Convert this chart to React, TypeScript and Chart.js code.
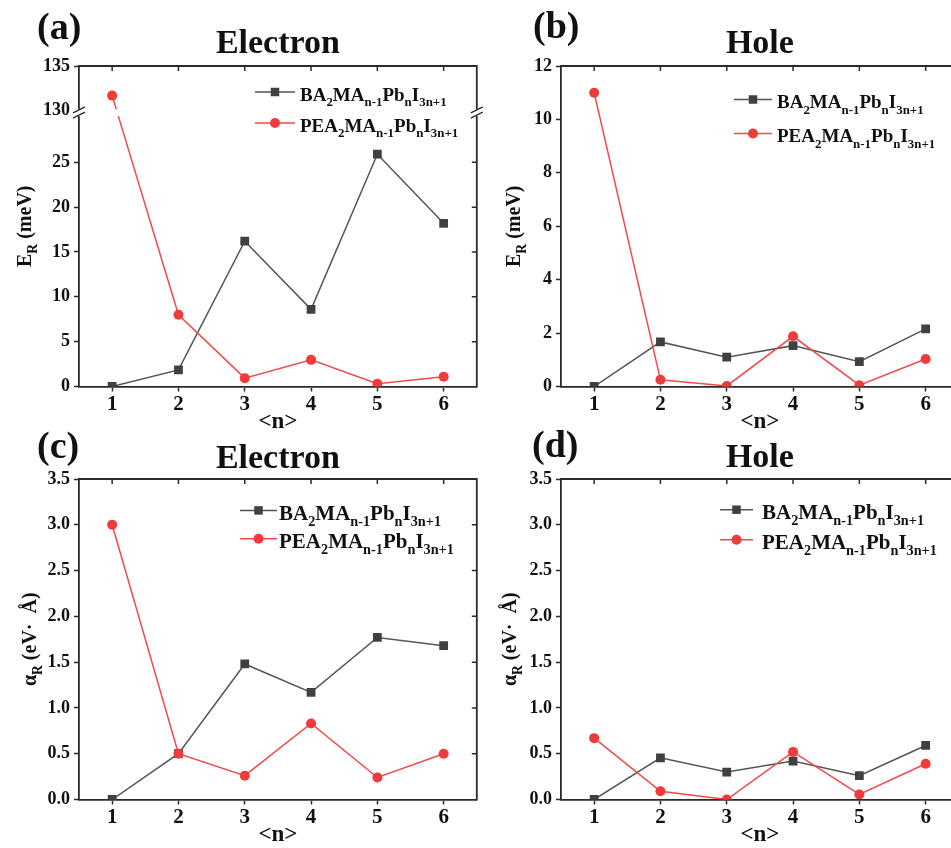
import React, { useEffect, useRef } from "react";
import { Chart, registerables } from "chart.js";

Chart.register(...registerables);

// ---------------- data ----------------
const nValues = [1, 2, 3, 4, 5, 6];
const xTickLabels = ["1", "2", "3", "4", "5", "6"];

const baElectronER = [0, 1.85, 16.2, 8.6, 25.9, 18.2];
const peaElectronER = [131.7, 8.0, 0.93, 2.97, 0.3, 1.1];

const baHoleER = [0, 1.67, 1.1, 1.53, 0.93, 2.16];
const peaHoleER = [11.0, 0.25, 0.02, 1.88, 0.05, 1.03];

const baElectronAlpha = [0, 0.5, 1.48, 1.17, 1.77, 1.68];
const peaElectronAlpha = [3.0, 0.5, 0.26, 0.83, 0.24, 0.5];

const baHoleAlpha = [0, 0.455, 0.3, 0.42, 0.26, 0.59];
const peaHoleAlpha = [0.67, 0.09, 0.0, 0.52, 0.055, 0.39];

const erElectronTicks = [0, 5, 10, 15, 20, 25, 130, 135];
const erHoleTicks = [0, 2, 4, 6, 8, 10, 12];
const alphaTicks = [0, 0.5, 1.0, 1.5, 2.0, 2.5, 3.0, 3.5];

type Seg = { t: string; sub?: boolean };
const baName: Seg[] = [
  { t: "BA" }, { t: "2", sub: true }, { t: "MA" }, { t: "n-1", sub: true },
  { t: "Pb" }, { t: "n", sub: true }, { t: "I" }, { t: "3n+1", sub: true },
];
const peaName: Seg[] = [
  { t: "PEA" }, { t: "2", sub: true }, { t: "MA" }, { t: "n-1", sub: true },
  { t: "Pb" }, { t: "n", sub: true }, { t: "I" }, { t: "3n+1", sub: true },
];
const erTitle: Seg[] = [{ t: "E" }, { t: "R", sub: true }, { t: " (meV)" }];
const alphaTitle: Seg[] = [{ t: "α" }, { t: "R", sub: true }, { t: " (eV·  Å)" }];
const xTitle = "<n>";

// ---------------- styling ----------------
const FONT = '"Liberation Serif", "Times New Roman", serif';
const RED = "#ef3b3b";
const RED_LINE = "#f04a4a";
const GRAY = "#404040";
const GRAY_LINE = "#555555";
const AX = "#2a2a2a";
const TXT = "#111111";
const CW = 483;
const CH = 432;
const PAD_TOP = 66;
const Y_AXIS_W = 79;
const X_AXIS_H = 45.5;

// axis break for panel (a)
const BREAK_LOW = 30;
const BREAK_HIGH = 130;
const UPPER_START = 30.74;
const breakTf = (v: number) => (v <= BREAK_LOW ? v : UPPER_START + (v - BREAK_HIGH));
const idTf = (v: number) => v;

type LegendCfg = { lineX: number; lineLen: number; textX: number; y1: number; y2: number; size: number };
type PanelCfg = {
  key: string; left: number; top: number; label: string; labelX: number; labelBase: number;
  title: string; titleBase: number; yTitle: Seg[]; yTitleX: number; yTitleSize: number;
  ba: number[]; pea: number[]; yTicks: number[]; yMax: number; decimals: number;
  broken: boolean; legend: LegendCfg;
};

const panels: PanelCfg[] = [
  {
    key: "a", left: 0, top: 0, label: "(a)", labelX: 37, labelBase: 39, title: "Electron", titleBase: 53,
    yTitle: erTitle, yTitleX: 24, yTitleSize: 20, ba: baElectronER, pea: peaElectronER,
    yTicks: erElectronTicks, yMax: 135, decimals: 0, broken: true,
    legend: { lineX: 176, lineLen: 40, textX: 221, y1: 26, y2: 57, size: 19 },
  },
  {
    key: "b", left: 482, top: 0, label: "(b)", labelX: 51, labelBase: 38, title: "Hole", titleBase: 53,
    yTitle: erTitle, yTitleX: 31, yTitleSize: 20, ba: baHoleER, pea: peaHoleER,
    yTicks: erHoleTicks, yMax: 12, decimals: 0, broken: false,
    legend: { lineX: 173, lineLen: 38, textX: 216, y1: 33.5, y2: 67.5, size: 19 },
  },
  {
    key: "c", left: 0, top: 413, label: "(c)", labelX: 37, labelBase: 45, title: "Electron", titleBase: 55,
    yTitle: alphaTitle, yTitleX: 29, yTitleSize: 20, ba: baElectronAlpha, pea: peaElectronAlpha,
    yTicks: alphaTicks, yMax: 3.5, decimals: 1, broken: false,
    legend: { lineX: 161, lineLen: 37, textX: 200, y1: 31.4, y2: 59.7, size: 21 },
  },
  {
    key: "d", left: 482, top: 413, label: "(d)", labelX: 50, labelBase: 43.5, title: "Hole", titleBase: 53.7,
    yTitle: alphaTitle, yTitleX: 27, yTitleSize: 20, ba: baHoleAlpha, pea: peaHoleAlpha,
    yTicks: alphaTicks, yMax: 3.5, decimals: 1, broken: false,
    legend: { lineX: 159, lineLen: 33, textX: 201, y1: 30.7, y2: 60.7, size: 21 },
  },
];

// ---------------- drawing helpers ----------------
const SUB_SCALE = 0.68;
const SUB_DROP = 0.3;
function segFont(size: number, sub?: boolean) {
  return `bold ${sub ? size * SUB_SCALE : size}px ${FONT}`;
}
function richWidth(ctx: CanvasRenderingContext2D, segs: Seg[], size: number) {
  let w = 0;
  for (const s of segs) {
    ctx.font = segFont(size, s.sub);
    w += ctx.measureText(s.t).width;
  }
  return w;
}
function drawRich(ctx: CanvasRenderingContext2D, x: number, base: number, segs: Seg[], size: number) {
  let cx = x;
  ctx.textAlign = "left";
  ctx.textBaseline = "alphabetic";
  for (const s of segs) {
    ctx.font = segFont(size, s.sub);
    ctx.fillText(s.t, cx, s.sub ? base + size * SUB_DROP : base);
    cx += ctx.measureText(s.t).width;
  }
}
function drawSquare(ctx: CanvasRenderingContext2D, x: number, y: number, s: number) {
  ctx.fillStyle = GRAY;
  ctx.fillRect(x - s / 2, y - s / 2, s, s);
}
function drawCircle(ctx: CanvasRenderingContext2D, x: number, y: number, r: number) {
  ctx.fillStyle = RED;
  ctx.beginPath();
  ctx.arc(x, y, r, 0, Math.PI * 2);
  ctx.fill();
}

function makePlugin(p: PanelCfg, yTickPos: number[]) {
  return {
    id: "decor_" + p.key,
    afterDraw(chart: any) {
      const ctx: CanvasRenderingContext2D = chart.ctx;
      const a = chart.chartArea;
      const xs = chart.scales.x;
      const ys = chart.scales.y;
      ctx.save();
      // top & right frame
      ctx.strokeStyle = AX;
      ctx.lineWidth = 1.8;
      ctx.beginPath();
      ctx.moveTo(a.left - 1, a.top);
      ctx.lineTo(a.right, a.top);
      ctx.lineTo(a.right, a.bottom + 1);
      ctx.stroke();
      // inward ticks
      ctx.lineWidth = 1.5;
      ctx.beginPath();
      for (const n of nValues) {
        const x = xs.getPixelForValue(n);
        ctx.moveTo(x, a.top);
        ctx.lineTo(x, a.top + 5);
      }
      for (const v of yTickPos) {
        const y = ys.getPixelForValue(v);
        if (Math.abs(y - a.top) < 1 || Math.abs(y - a.bottom) < 1) continue;
        ctx.moveTo(a.right, y);
        ctx.lineTo(a.right - 5, y);
      }
      ctx.stroke();
      // axis break
      if (p.broken) {
        const yLo = ys.getPixelForValue(30.15);
        const yHi = ys.getPixelForValue(30.9);
        ctx.fillStyle = "#ffffff";
        ctx.fillRect(a.left - 8, yHi, a.right - a.left + 16, yLo - yHi);
        const yb = ys.getPixelForValue(30.55);
        ctx.strokeStyle = AX;
        ctx.lineWidth = 1.3;
        ctx.beginPath();
        for (const x of [a.left, a.right]) {
          for (const off of [-2.6, 2.6]) {
            ctx.moveTo(x - 6, yb + off + 3);
            ctx.lineTo(x + 6, yb + off - 3);
          }
        }
        ctx.stroke();
      }
      ctx.fillStyle = TXT;
      // panel label
      ctx.font = `bold 38px ${FONT}`;
      ctx.textAlign = "left";
      ctx.textBaseline = "alphabetic";
      ctx.fillText(p.label, p.labelX, p.labelBase);
      // title
      ctx.font = `bold 34px ${FONT}`;
      ctx.textAlign = "center";
      ctx.fillText(p.title, (a.left + a.right) / 2, p.titleBase);
      // x title
      ctx.font = `bold 23px ${FONT}`;
      ctx.textBaseline = "middle";
      ctx.fillText(xTitle, (a.left + a.right) / 2, a.bottom + 36);
      // y title (rotated)
      ctx.save();
      ctx.translate(p.yTitleX, (a.top + a.bottom) / 2);
      ctx.rotate(-Math.PI / 2);
      const tw = richWidth(ctx, p.yTitle, p.yTitleSize);
      ctx.fillStyle = TXT;
      drawRich(ctx, -tw / 2, p.yTitleSize * 0.33, p.yTitle, p.yTitleSize);
      ctx.restore();
      // legend
      const L = p.legend;
      const entries = [
        { y: a.top + L.y1, color: GRAY_LINE, segs: baName, sq: true },
        { y: a.top + L.y2, color: RED_LINE, segs: peaName, sq: false },
      ];
      for (const e of entries) {
        const x0 = a.left + L.lineX;
        ctx.strokeStyle = e.color;
        ctx.lineWidth = 1.5;
        ctx.beginPath();
        ctx.moveTo(x0, e.y);
        ctx.lineTo(x0 + L.lineLen, e.y);
        ctx.stroke();
        if (e.sq) drawSquare(ctx, x0 + L.lineLen / 2, e.y, 8.5);
        else drawCircle(ctx, x0 + L.lineLen / 2, e.y, 5);
        ctx.fillStyle = TXT;
        drawRich(ctx, a.left + L.textX, e.y + L.size * 0.45, e.segs, L.size);
      }
      ctx.restore();
    },
  };
}

function buildConfig(p: PanelCfg): any {
  const tf = p.broken ? breakTf : idTf;
  const yTickPos = p.yTicks.map(tf);
  const tickFontX = { family: FONT, size: 21, weight: "bold" as const };
  const tickFontY = { family: FONT, size: 18, weight: "bold" as const };
  return {
    type: "line",
    data: {
      datasets: [
        {
          label: "PEA",
          data: nValues.map((n, i) => ({ x: n, y: tf(p.pea[i]) })),
          borderColor: RED_LINE,
          backgroundColor: RED,
          pointBackgroundColor: RED,
          pointBorderColor: RED,
          pointBorderWidth: 0,
          pointStyle: "circle",
          pointRadius: 5,
          borderWidth: 1.5,
          order: 0,
          clip: 0,
        },
        {
          label: "BA",
          data: nValues.map((n, i) => ({ x: n, y: tf(p.ba[i]) })),
          borderColor: GRAY_LINE,
          backgroundColor: GRAY,
          pointBackgroundColor: GRAY,
          pointBorderColor: GRAY,
          pointBorderWidth: 0,
          pointStyle: "rect",
          pointRadius: 6.2,
          borderWidth: 1.5,
          order: 1,
          clip: 0,
        },
      ],
    },
    options: {
      animation: false,
      responsive: false,
      events: [],
      layout: { padding: { top: PAD_TOP, right: 3, left: 0, bottom: 0 } },
      plugins: { legend: { display: false }, tooltip: { enabled: false }, title: { display: false } },
      scales: {
        x: {
          type: "linear",
          min: 0.5,
          max: 6.5,
          afterBuildTicks: (s: any) => {
            s.ticks = nValues.map((v) => ({ value: v }));
          },
          afterFit: (s: any) => {
            s.height = X_AXIS_H;
          },
          ticks: {
            callback: (v: number) => {
              const i = nValues.indexOf(v);
              return i >= 0 ? xTickLabels[i] : "";
            },
            font: tickFontX,
            color: TXT,
            padding: 0,
            autoSkip: false,
            maxRotation: 0,
          },
          grid: { drawOnChartArea: false, drawTicks: true, tickLength: 5, tickColor: AX, tickWidth: 1.5 },
          border: { display: true, color: AX, width: 1.8 },
        },
        y: {
          type: "linear",
          min: 0,
          max: tf(p.yMax),
          afterBuildTicks: (s: any) => {
            s.ticks = yTickPos.map((v) => ({ value: v }));
          },
          afterFit: (s: any) => {
            s.width = Y_AXIS_W;
          },
          ticks: {
            callback: (_v: number, i: number) => p.yTicks[i].toFixed(p.decimals),
            font: tickFontY,
            color: TXT,
            padding: 4,
            autoSkip: false,
          },
          grid: { drawOnChartArea: false, drawTicks: true, tickLength: 5, tickColor: AX, tickWidth: 1.5 },
          border: { display: true, color: AX, width: 1.8 },
        },
      },
    },
    plugins: [makePlugin(p, yTickPos)],
  };
}

function Panel({ p }: { p: PanelCfg }) {
  const ref = useRef<HTMLCanvasElement>(null);
  useEffect(() => {
    const chart = new Chart(ref.current as HTMLCanvasElement, buildConfig(p));
    return () => chart.destroy();
  }, [p]);
  return (
    <canvas
      ref={ref}
      width={CW}
      height={CH}
      style={{ position: "absolute", left: p.left, top: p.top, width: CW, height: CH }}
    />
  );
}

export default function App() {
  return (
    <div
      style={{
        position: "fixed",
        left: 0,
        top: 0,
        width: 951,
        height: 848,
        overflow: "hidden",
        background: "#ffffff",
      }}
    >
      {panels.map((p) => (
        <Panel key={p.key} p={p} />
      ))}
    </div>
  );
}
